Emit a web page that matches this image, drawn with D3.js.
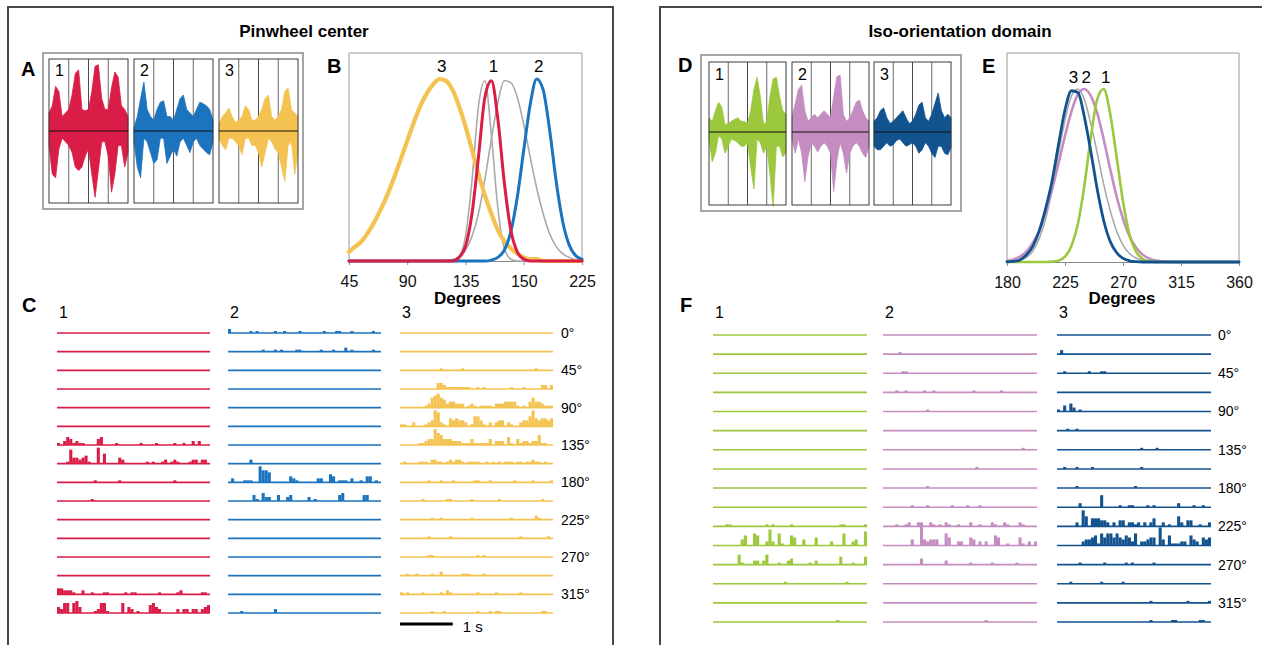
<!DOCTYPE html>
<html><head><meta charset="utf-8">
<script src="https://cdnjs.cloudflare.com/ajax/libs/d3/7.8.5/d3.min.js"></script>
<style>
html,body{margin:0;padding:0;background:#fff;}
svg{display:block;font-family:"Liberation Sans",Arial,Helvetica,sans-serif;}
</style></head><body>
<svg id="chart" width="1262" height="645"></svg>
<script>
// ---------------- DATA ----------------
const panelTitles = ["Pinwheel center", "Iso-orientation domain"];
const panelLetters = ["A", "B", "C", "D", "E", "F"];
const siteLabels = ["1", "2", "3"];

// Panel A / D : averaged waveform envelopes (relative amplitude, 25 samples per site)
const pinWaveUpper = [
  [0.25,0.35,0.62,0.55,0.2,0.25,0.3,0.5,0.8,0.85,0.3,0.28,0.3,0.55,0.9,0.92,0.45,0.3,0.3,0.6,0.82,0.75,0.35,0.3,0.2],
  [0.05,0.2,0.45,0.68,0.3,0.2,0.15,0.3,0.4,0.42,0.2,0.2,0.15,0.3,0.45,0.5,0.3,0.25,0.2,0.3,0.4,0.38,0.35,0.3,0.15],
  [0.1,0.2,0.25,0.32,0.2,0.12,0.15,0.2,0.35,0.3,0.15,0.15,0.2,0.3,0.45,0.5,0.2,0.15,0.2,0.3,0.55,0.6,0.3,0.25,0.2]
];
const pinWaveLower = [
  [-0.2,-0.6,-0.65,-0.25,-0.1,-0.15,-0.2,-0.3,-0.5,-0.55,-0.5,-0.35,-0.25,-0.6,-0.92,-0.55,-0.15,-0.15,-0.35,-0.85,-0.6,-0.2,-0.2,-0.5,-0.3],
  [-0.15,-0.5,-0.65,-0.1,-0.15,-0.3,-0.45,-0.4,-0.1,-0.1,-0.45,-0.35,-0.25,-0.35,-0.15,-0.1,-0.2,-0.3,-0.15,-0.1,-0.2,-0.25,-0.3,-0.33,-0.15],
  [-0.1,-0.2,-0.26,-0.1,-0.1,-0.15,-0.2,-0.33,-0.1,-0.1,-0.2,-0.2,-0.3,-0.5,-0.3,-0.1,-0.15,-0.25,-0.3,-0.5,-0.7,-0.2,-0.15,-0.6,-0.3]
];
const isoWaveUpper = [
  [0.2,0.15,0.3,0.42,0.35,0.1,0.12,0.15,0.18,0.2,0.15,0.15,0.12,0.3,0.6,0.77,0.5,0.1,0.15,0.5,0.75,0.77,0.5,0.3,0.25],
  [0.2,0.4,0.6,0.66,0.3,0.15,0.2,0.25,0.2,0.25,0.3,0.25,0.2,0.5,0.78,0.8,0.25,0.15,0.2,0.3,0.42,0.45,0.3,0.2,0.15],
  [0.15,0.2,0.3,0.34,0.2,0.12,0.15,0.2,0.25,0.3,0.2,0.12,0.15,0.25,0.38,0.42,0.2,0.15,0.25,0.4,0.55,0.3,0.2,0.25,0.2]
];
const isoWaveLower = [
  [-0.1,-0.42,-0.3,-0.05,-0.1,-0.3,-0.2,-0.1,-0.12,-0.15,-0.2,-0.2,-0.15,-0.5,-0.8,-0.1,-0.15,-0.3,-0.2,-0.6,-1.05,-0.2,-0.2,-0.35,-0.3],
  [-0.1,-0.3,-0.1,-0.3,-0.7,-0.35,-0.15,-0.2,-0.28,-0.2,-0.15,-0.2,-0.3,-0.84,-0.4,-0.15,-0.3,-0.58,-0.3,-0.2,-0.15,-0.2,-0.3,-0.36,-0.2],
  [-0.2,-0.25,-0.25,-0.2,-0.15,-0.2,-0.18,-0.12,-0.1,-0.15,-0.2,-0.18,-0.15,-0.2,-0.3,-0.25,-0.15,-0.2,-0.3,-0.36,-0.2,-0.2,-0.3,-0.32,-0.22]
];

// Panel B : tuning curves (normalized response) sampled every 5 degrees
const degreesB = [45,50,55,60,65,70,75,80,85,90,95,100,105,110,115,120,125,130,135,140,145,150,155,160,165,170,175,180,185,190,195,200,205,210,215,220,225];
const tuningB1 = [0,0,0,0,0,0,0,0,0,0,0,0,0,0,0,0,0,0.02,0.08,0.26,0.57,0.9,0.99,0.78,0.43,0.17,0.05,0.01,0,0,0,0,0,0,0,0,0];
const tuningB2 = [0,0,0,0,0,0,0,0,0,0,0,0,0,0,0,0,0,0,0,0,0,0,0.005,0.02,0.06,0.16,0.35,0.61,0.86,1.0,0.94,0.72,0.44,0.22,0.09,0.03,0.01];
const tuningB3 = [0.05,0.08,0.11,0.16,0.22,0.29,0.37,0.46,0.56,0.66,0.76,0.85,0.92,0.97,1.0,0.99,0.94,0.85,0.74,0.61,0.48,0.36,0.26,0.17,0.11,0.07,0.04,0.02,0.01,0.01,0,0,0,0,0,0,0];
const tuningBGreyA = [0,0,0,0,0,0,0,0,0,0,0,0,0,0,0,0,0.003,0.025,0.135,0.44,0.85,0.99,0.69,0.29,0.07,0.01,0,0,0,0,0,0,0,0,0,0,0];
const tuningBGreyB = [0,0,0,0,0,0,0,0,0,0,0,0,0,0,0,0.002,0.008,0.023,0.06,0.135,0.26,0.45,0.67,0.87,0.99,0.98,0.9,0.75,0.57,0.4,0.26,0.15,0.08,0.04,0.02,0.008,0.003];
const tickDegB = [45, 90, 135, 180, 225];
const tickLabelsB = ["45", "90", "135", "150", "225"];

// Panel E : tuning curves sampled every 5 degrees
const degreesE = [180,185,190,195,200,205,210,215,220,225,230,235,240,245,250,255,260,265,270,275,280,285,290,295,300,305,310,315,320,325,330,335,340,345,350,355,360];
const tuningE1 = [0,0,0,0,0,0,0,0.002,0.008,0.031,0.093,0.22,0.44,0.72,0.94,1.0,0.86,0.61,0.35,0.16,0.061,0.019,0.005,0.001,0,0,0,0,0,0,0,0,0,0,0,0,0];
const tuningE2 = [0.007,0.015,0.031,0.06,0.11,0.18,0.29,0.42,0.57,0.73,0.87,0.97,1.0,0.96,0.86,0.71,0.54,0.38,0.25,0.15,0.085,0.044,0.021,0.009,0.004,0.001,0,0,0,0,0,0,0,0,0,0,0];
const tuningE3 = [0.001,0.003,0.012,0.04,0.09,0.18,0.31,0.47,0.68,0.88,0.99,0.98,0.84,0.64,0.42,0.24,0.12,0.055,0.021,0.007,0.002,0,0,0,0,0,0,0,0,0,0,0,0,0,0,0,0];
const tuningEGrey = [0,0.003,0.01,0.027,0.064,0.135,0.25,0.42,0.63,0.82,0.96,1.0,0.94,0.8,0.63,0.45,0.3,0.18,0.098,0.049,0.023,0.009,0.003,0,0,0,0,0,0,0,0,0,0,0,0,0,0];
const tickDegE = [180, 225, 270, 315, 360];
const tickLabelsE = ["180", "225", "270", "315", "360"];

// Panels C / F : PSTHs, 16 orientations, 50 bins per row; [bin, count]
const orientations = [0,22.5,45,67.5,90,112.5,135,157.5,180,202.5,225,247.5,270,292.5,315,337.5];
const orientationLabels = ["0°","45°","90°","135°","180°","225°","270°","315°"];
const binCount = 50;
const trialSeconds = 2.9;

const pinRaster1 = [
  [], [], [], [], [], [],
  [[0,1],[2,2],[3,4],[4,3],[5,1],[6,2],[7,1],[8,1],[13,3],[14,4],[19,1],[27,1],[32,1],[38,1],[41,1],[44,2],[46,2]],
  [[3,1],[4,7],[5,3],[6,3],[7,2],[8,3],[9,4],[10,1],[13,8],[15,5],[20,3],[21,2],[29,1],[31,1],[34,1],[35,2],[37,1],[38,2],[39,1],[43,1],[44,2],[45,2],[47,2],[48,2]],
  [[12,1],[20,1],[38,1]],
  [[11,1]],
  [], [], [], [],
  [[0,3],[1,3],[2,2],[3,2],[4,2],[5,1],[8,2],[11,1],[15,1],[16,1],[22,1],[24,1],[25,1],[33,1],[39,1],[40,2],[47,1],[48,1]],
  [[0,3],[1,2],[2,5],[3,5],[5,5],[6,6],[7,3],[12,1],[13,2],[14,5],[15,5],[16,1],[21,5],[23,3],[24,2],[26,1],[30,4],[31,5],[32,3],[33,2],[39,2],[41,2],[42,2],[44,2],[45,2],[47,2],[48,3],[49,4]]
];
const pinRaster2 = [
  [[0,2],[7,1],[9,1],[15,1],[18,1],[23,1],[31,1],[35,1],[36,1],[40,1],[47,1]],
  [[11,1],[15,1],[17,1],[22,1],[23,1],[30,1],[34,1],[38,2],[40,1],[47,1]],
  [], [], [], [], [],
  [[7,2]],
  [[1,2],[5,1],[6,1],[7,1],[10,8],[11,6],[12,6],[13,5],[20,3],[21,2],[22,1],[29,2],[30,2],[33,4],[34,3],[36,1],[37,1],[38,1],[40,2],[43,1],[45,3],[46,3],[48,1]],
  [[8,3],[9,1],[11,4],[12,2],[13,2],[16,3],[19,2],[20,3],[26,2],[28,1],[36,3],[37,4],[44,3],[45,3]],
  [], [], [], [], [],
  [[4,1],[15,2]]
];
const pinRaster3 = [
  [], [],
  [[13,1],[20,1],[44,1]],
  [[12,3],[13,3],[14,2],[15,1],[16,1],[17,1],[18,1],[19,1],[20,1],[21,1],[22,1],[25,1],[27,1],[36,1],[40,1],[46,2],[47,2],[49,2]],
  [[8,1],[9,2],[10,5],[11,6],[12,7],[13,5],[14,4],[15,2],[16,3],[17,3],[18,2],[19,2],[20,2],[22,1],[23,2],[24,1],[26,1],[27,1],[28,1],[29,1],[31,2],[32,2],[33,2],[34,3],[35,3],[36,3],[37,3],[38,1],[40,1],[42,3],[43,5],[44,3],[45,3],[46,2],[47,1],[48,1],[49,1]],
  [[0,1],[1,1],[4,2],[8,1],[9,2],[10,3],[11,8],[12,7],[13,2],[14,1],[16,4],[17,3],[18,4],[19,3],[20,3],[21,2],[23,1],[24,5],[25,5],[26,3],[27,1],[29,2],[31,2],[32,3],[33,3],[35,2],[36,1],[39,2],[40,3],[41,3],[42,5],[43,8],[44,4],[45,3],[46,4],[47,4],[48,3],[49,4]],
  [[6,1],[7,1],[8,2],[9,3],[10,3],[11,8],[12,6],[13,5],[14,3],[15,3],[16,3],[17,2],[18,2],[19,2],[20,1],[21,1],[22,1],[23,3],[24,1],[25,1],[26,1],[27,1],[28,1],[29,3],[31,2],[32,2],[33,2],[35,4],[36,1],[38,3],[39,1],[40,2],[41,2],[42,1],[43,2],[44,2],[45,5],[46,1],[47,1]],
  [[1,1],[6,1],[7,1],[8,1],[10,2],[11,2],[12,1],[13,1],[15,1],[16,2],[17,1],[18,2],[19,2],[20,1],[22,1],[23,1],[24,1],[25,1],[28,1],[30,1],[32,1],[34,1],[35,1],[36,1],[38,1],[39,1],[41,1],[42,1],[43,2],[44,1],[45,1],[47,1]],
  [[9,1],[13,1],[17,1],[24,1],[25,1],[29,1],[37,1],[43,1],[49,1]],
  [[7,1],[15,1],[16,1],[23,1],[32,1],[46,1]],
  [[10,1],[13,1],[23,1],[36,1],[44,2],[45,1]],
  [[9,1],[16,1],[39,1],[48,1]],
  [[9,1],[10,1],[25,1],[27,1]],
  [[2,1],[5,1],[10,1],[13,2],[20,1],[21,1],[22,1],[27,1]],
  [[0,1],[2,1],[7,1],[13,1],[15,2],[16,1],[25,1],[31,1],[39,1]],
  [[10,1],[14,1],[25,1],[29,1],[31,1],[32,1],[46,1],[47,1]]
];
const isoRaster1 = [
  [], [], [], [], [], [], [], [], [], [],
  [[4,1],[5,1],[17,1],[19,1],[25,1],[41,1],[42,1],[49,1]],
  [[9,3],[10,5],[13,6],[14,5],[17,2],[18,8],[19,2],[21,6],[22,1],[25,5],[26,4],[29,3],[33,4],[38,2],[42,6],[45,2],[46,3],[49,7]],
  [[8,5],[9,1],[13,2],[14,2],[16,2],[17,5],[21,1],[24,2],[25,3],[31,1],[33,2],[41,4],[45,1],[49,4]],
  [[23,1],[43,1]],
  [],
  [[40,1]]
];
const isoRaster2 = [
  [],
  [[5,1]],
  [[6,1],[7,1]],
  [[4,1],[7,1],[13,1],[16,1],[29,1],[38,1]],
  [[14,1]],
  [],
  [[45,1]],
  [[30,1]],
  [[14,1]],
  [[9,1],[14,1],[22,1],[27,1],[31,1]],
  [[4,1],[7,1],[8,2],[11,2],[12,2],[15,2],[16,1],[18,1],[20,2],[21,1],[24,1],[28,2],[31,1],[35,2],[36,1],[39,2],[40,1],[44,2],[45,1]],
  [[9,3],[12,11],[13,3],[14,2],[15,3],[16,3],[17,3],[20,6],[21,4],[24,2],[25,2],[28,4],[29,3],[31,2],[33,2],[36,5],[37,4],[40,1],[44,4],[45,1],[47,2],[49,2]],
  [[12,3],[20,2],[28,1],[35,1],[43,1]],
  [],
  [],
  [[33,1]]
];
const isoRaster3 = [
  [],
  [[1,2]],
  [[2,1],[10,1],[14,1],[15,1]],
  [],
  [[0,1],[2,3],[4,4],[5,2],[7,1]],
  [[3,1],[6,1]],
  [[27,1],[32,1]],
  [[2,1],[6,1],[11,1],[27,1]],
  [[6,1],[25,1]],
  [[7,2],[14,6],[20,1],[23,1],[24,1],[29,1],[31,1],[39,2],[44,1],[47,1]],
  [[6,2],[8,8],[9,5],[11,4],[12,4],[13,4],[14,3],[15,3],[16,2],[18,2],[20,3],[21,3],[23,2],[24,2],[25,1],[26,2],[28,2],[30,2],[31,4],[34,2],[36,1],[39,5],[40,2],[42,3],[43,3],[46,1],[49,2]],
  [[8,2],[9,3],[10,3],[11,4],[12,5],[13,1],[14,6],[15,4],[16,6],[17,6],[18,4],[19,6],[20,4],[21,3],[22,5],[23,4],[24,2],[25,6],[27,2],[28,2],[29,3],[30,4],[31,4],[33,9],[34,3],[36,5],[37,1],[38,1],[39,1],[40,2],[41,2],[43,5],[44,3],[45,2],[47,4],[48,3],[49,4]],
  [[7,1],[15,1],[22,1],[24,1],[31,1]],
  [[4,1],[14,1],[21,1]],
  [[30,1],[42,1],[49,1]],
  [[30,1],[37,1],[38,1],[46,1],[47,1]]
];

// ---------------- STYLE ----------------
const pinColors = ["#d91d46", "#1c73be", "#f4c250"];
const isoColors = ["#9cc83d", "#c48cc0", "#11528f"];
const greyCurve = "#a9a9a9";

// ---------------- DRAW ----------------
const svg = d3.select("#chart");

// outer frames
svg.append("path").attr("d", "M8,660V7H613V660").attr("fill", "none").attr("stroke", "#474747").attr("stroke-width", 2);
svg.append("path").attr("d", "M660,660V7H1290").attr("fill", "none").attr("stroke", "#474747").attr("stroke-width", 2);

// titles
[[304, panelTitles[0]], [960, panelTitles[1]]].forEach(([x, t]) => {
  svg.append("text").attr("x", x).attr("y", 37).attr("text-anchor", "middle")
    .attr("font-weight", "bold").attr("font-size", 17).text(t);
});

// panel letters
[[21, 76], [327, 73], [22, 312], [678, 72], [982, 73], [680, 312]].forEach(([x, y], i) => {
  svg.append("text").attr("x", x).attr("y", y).attr("font-weight", "bold")
    .attr("font-size", 20).text(panelLetters[i]);
});

function wavePanel(cfg, upper, lower, colors) {
  const g = svg.append("g");
  g.append("rect").attr("x", cfg.ox).attr("y", cfg.oy).attr("width", cfg.ow).attr("height", cfg.oh)
    .attr("fill", "#fff").attr("stroke", "#a5a5a5").attr("stroke-width", 2);
  cfg.boxX.forEach((x0, k) => {
    const xs = d3.scaleLinear().domain([0, upper[k].length - 1]).range([x0, x0 + cfg.bw]);
    const ys = d3.scaleLinear().domain([-1, 1]).range([cfg.mid + cfg.half, cfg.mid - cfg.half]);
    const quarter = d3.scaleLinear().domain([0, 4]).range([x0, x0 + cfg.bw]);
    [1, 2, 3].forEach(q => {
      g.append("line").attr("x1", quarter(q)).attr("x2", quarter(q))
        .attr("y1", cfg.by).attr("y2", cfg.by + cfg.bh)
        .attr("stroke", q === 2 ? "#4a4a4a" : "#6a6a6a").attr("stroke-width", 1);
    });
    const area = d3.area().x((d, i) => xs(i)).y0((d, i) => ys(lower[k][i])).y1(d => ys(d));
    g.append("path").datum(upper[k]).attr("d", area).attr("fill", colors[k])
      .attr("stroke", colors[k]).attr("stroke-width", 0.8).attr("stroke-linejoin", "round");
    g.append("rect").attr("x", x0).attr("y", cfg.by).attr("width", cfg.bw).attr("height", cfg.bh)
      .attr("fill", "none").attr("stroke", "#3a3a3a").attr("stroke-width", 1);
    g.append("line").attr("x1", x0).attr("x2", x0 + cfg.bw).attr("y1", ys(0)).attr("y2", ys(0))
      .attr("stroke", "#111").attr("stroke-width", 1);
    g.append("text").attr("x", x0 + 6).attr("y", cfg.labelY).attr("font-size", 16).text(siteLabels[k]);
  });
}

wavePanel({ox: 43, oy: 53, ow: 260, oh: 156, boxX: [49, 134, 219], bw: 79, by: 59, bh: 144, mid: 131, half: 72, labelY: 76},
  pinWaveUpper, pinWaveLower, pinColors);
wavePanel({ox: 701, oy: 55, ow: 260, oh: 156, boxX: [709, 792, 874], bw: 77, by: 62, bh: 143, mid: 132, half: 71, labelY: 80},
  isoWaveUpper, isoWaveLower, isoColors);

function tuningPanel(cfg, degrees, curves, labelCurves, tickVals, tickLabels) {
  const g = svg.append("g");
  const xs = d3.scaleLinear().domain([degrees[0], degrees[degrees.length - 1]]).range([cfg.x0, cfg.x1]);
  const ys = d3.scaleLinear().domain([0, 1]).range([cfg.base, cfg.peak]);
  g.append("path").attr("d", `M${cfg.x0},${cfg.base}V${cfg.top}H${cfg.x1}V${cfg.base}`)
    .attr("fill", "none").attr("stroke", "#9a9a9a").attr("stroke-width", 1);
  const axis = d3.axisBottom(xs).tickValues(tickVals).tickFormat((d, i) => tickLabels[i])
    .tickSize(4).tickSizeOuter(0).tickPadding(11);
  const ag = g.append("g").attr("transform", `translate(0,${cfg.base})`).call(axis);
  ag.select(".domain").attr("stroke", "#8a8a8a");
  ag.selectAll(".tick line").attr("stroke", "#8a8a8a");
  ag.selectAll(".tick text").attr("font-size", 16).attr("fill", "#111")
    .attr("font-family", "'Liberation Sans',Arial,sans-serif");
  const line = d3.line().x((d, i) => xs(degrees[i])).y(d => ys(d)).curve(d3.curveMonotoneX);
  curves.forEach(c => {
    g.append("path").datum(c.values).attr("d", line).attr("fill", "none")
      .attr("stroke", c.color).attr("stroke-width", c.width)
      .attr("stroke-linejoin", "round").attr("stroke-linecap", "round");
  });
  labelCurves.forEach(c => {
    const idx = d3.maxIndex(c.values);
    g.append("text").attr("x", xs(degrees[idx]) + cfg.labelDx).attr("y", cfg.labelY)
      .attr("text-anchor", "middle").attr("font-size", 17).text(c.label);
  });
  g.append("text").attr("x", (cfg.x0 + cfg.x1) / 2 + cfg.titleDx).attr("y", 304)
    .attr("text-anchor", "middle").attr("font-weight", "bold").attr("font-size", 17).text("Degrees");
}

const bCurves = [
  {values: tuningBGreyB, color: greyCurve, width: 1.6},
  {values: tuningBGreyA, color: greyCurve, width: 1.6},
  {values: tuningB3, color: pinColors[2], width: 4.2, label: siteLabels[2]},
  {values: tuningB2, color: pinColors[1], width: 3, label: siteLabels[1]},
  {values: tuningB1, color: pinColors[0], width: 3, label: siteLabels[0]}
];
tuningPanel({x0: 349, x1: 582, top: 53, base: 261, peak: 79, labelY: 72, labelDx: 2, titleDx: 2},
  degreesB, bCurves, bCurves.filter(c => c.label), tickDegB, tickLabelsB);

const eCurves = [
  {values: tuningEGrey, color: greyCurve, width: 1.6},
  {values: tuningE2, color: isoColors[1], width: 2.6, label: siteLabels[1]},
  {values: tuningE1, color: isoColors[0], width: 2.6, label: siteLabels[0]},
  {values: tuningE3, color: isoColors[2], width: 2.8, label: siteLabels[2]}
];
tuningPanel({x0: 1007, x1: 1239, top: 53, base: 262, peak: 89, labelY: 83, labelDx: 2, titleDx: -1},
  degreesE, eCurves, eCurves.filter(c => c.label), tickDegE, tickLabelsE);

function psthPanel(cfg, rasters, colors) {
  const g = svg.append("g");
  const ys = d3.scaleLinear().domain([0, orientations.length - 1]).range([cfg.y0, cfg.y1]);
  const hs = d3.scaleLinear().domain([0, 1]).range([0, 2]);
  const binDur = trialSeconds / binCount;
  rasters.forEach((rows, k) => {
    const xs = d3.scaleLinear().domain([0, trialSeconds]).range([cfg.colX[k], cfg.colX[k] + cfg.colW]);
    g.append("text").attr("x", cfg.colX[k] + 2).attr("y", 318).attr("font-size", 16).text(siteLabels[k]);
    rows.forEach((bins, r) => {
      const y = ys(r);
      g.append("line").attr("x1", xs(0)).attr("x2", xs(trialSeconds)).attr("y1", y).attr("y2", y)
        .attr("stroke", colors[k]).attr("stroke-width", 1.6);
      g.selectAll(null).data(bins).enter().append("rect")
        .attr("x", d => xs(d[0] * binDur))
        .attr("width", xs(binDur) - xs(0))
        .attr("y", d => y - hs(d[1]))
        .attr("height", d => hs(d[1]))
        .attr("fill", colors[k]);
    });
    if (k === rasters.length - 1) {
      orientations.forEach((o, r) => {
        if (o % 45 === 0) {
          g.append("text").attr("x", cfg.labelX).attr("y", ys(r)).attr("dy", "0.35em")
            .attr("font-size", 14).text(orientationLabels[o / 45]);
        }
      });
      if (cfg.scaleBar) {
        g.append("line").attr("x1", xs(0)).attr("x2", xs(1)).attr("y1", 624).attr("y2", 624)
          .attr("stroke", "#000").attr("stroke-width", 3);
        g.append("text").attr("x", xs(1) + 10).attr("y", 632).attr("font-size", 15).text("1 s");
      }
    }
  });
}

psthPanel({colX: [57, 228, 400], colW: 153, y0: 333, y1: 613, labelX: 561, scaleBar: true},
  [pinRaster1, pinRaster2, pinRaster3], pinColors);
psthPanel({colX: [713, 883, 1057], colW: 154, y0: 335, y1: 622, labelX: 1218, scaleBar: false},
  [isoRaster1, isoRaster2, isoRaster3], isoColors);
</script>
</body></html>
